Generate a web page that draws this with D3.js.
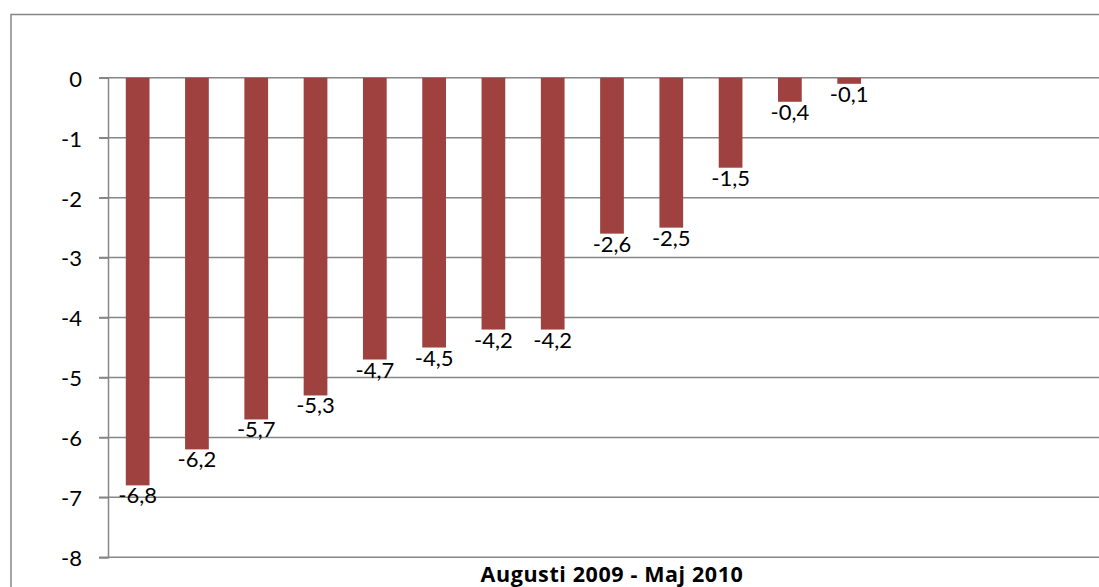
<!DOCTYPE html>
<html><head><meta charset="utf-8">
<script src="https://cdn.jsdelivr.net/npm/d3@7"></script>
<style>html,body{margin:0;padding:0;background:#fff;overflow:hidden;width:1099px;height:587px}svg{display:block;position:absolute;left:0;top:0}</style>
</head><body><svg id="c" width="1099" height="587"></svg>
<script>
const categories = ["1","2","3","4","5","6","7","8","9","10","11","12","13","14","15","16","17"];
const values = [-6.8,-6.2,-5.7,-5.3,-4.7,-4.5,-4.2,-4.2,-2.6,-2.5,-1.5,-0.4,-0.1,null,null,null,null];
const yTicks = [0,-1,-2,-3,-4,-5,-6,-7,-8];
const xTitle = "Augusti 2009 - Maj 2010";

(function(){
const svg = d3.select("#c");
const font = "Lato, 'Open Sans', sans-serif";
const grid = "#868686";
const pL = 108, pR = 1116, pT = 77.8, pB = 557.3;

// chart frame (left and top edges; the rest lies outside the window)
svg.append("path").attr("d","M11,600V14.5H1200")
  .attr("fill","none").attr("stroke",grid).attr("stroke-width",1.5);

const x = d3.scaleBand().domain(categories).range([pL,pR]).paddingInner(0.6).paddingOuter(0.3);
const y = d3.scaleLinear().domain([0,-8]).range([pT,pB]);

svg.append("g").selectAll("line").data(yTicks).join("line")
  .attr("x1",99).attr("x2",1200).attr("y1",d=>y(d)).attr("y2",d=>y(d))
  .attr("stroke",grid).attr("stroke-width",1.5);

const yAxis = d3.axisLeft(y).tickValues(yTicks).tickSize(9).tickPadding(17);
const ga = svg.append("g").attr("transform",`translate(${pL},0)`).call(yAxis);
ga.select(".domain").attr("stroke",grid).attr("stroke-width",1.5);
ga.selectAll(".tick line").attr("stroke",grid).attr("stroke-width",1.5);
ga.selectAll(".tick text").attr("font-family",font).attr("font-size",22).attr("fill","#000")
  .attr("dy","0.38em").text(d=>String(d));

const data = categories.map((c,i)=>({c,v:values[i]})).filter(d=>d.v!==null);

svg.append("g").selectAll("rect").data(data).join("rect")
  .attr("x",d=>x(d.c)).attr("width",x.bandwidth())
  .attr("y",y(0)).attr("height",d=>y(d.v)-y(0))
  .attr("fill","#9e413f");

svg.append("g").selectAll("text").data(data).join("text")
  .attr("x",d=>x(d.c)+x.bandwidth()/2).attr("y",d=>y(d.v)+18)
  .attr("text-anchor","middle").attr("font-family",font).attr("font-size",22).attr("fill","#000")
  .text(d=>String(d.v).replace(".",","));

svg.append("text").attr("x",(pL+pR)/2).attr("y",582)
  .attr("text-anchor","middle").attr("font-family","'Open Sans', sans-serif").attr("font-weight","bold")
  .attr("font-size",21.5).attr("letter-spacing",0.6).attr("fill","#000").text(xTitle);
})();
</script></body></html>
